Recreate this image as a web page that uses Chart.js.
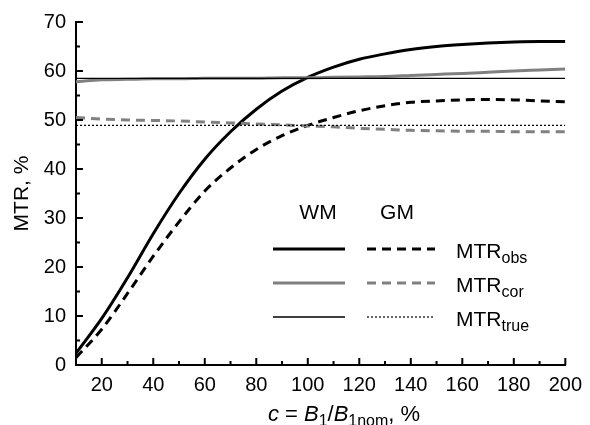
<!DOCTYPE html>
<html>
<head>
<meta charset="utf-8">
<script src="https://cdn.jsdelivr.net/npm/chart.js@4.4.0/dist/chart.umd.min.js"></script>
<style>
html,body{margin:0;padding:0;background:#fff;}
#wrap{width:590px;height:425px;position:relative;}
</style>
</head>
<body>
<div id="wrap"><canvas id="c" width="590" height="425"></canvas></div>
<script>
// ---- data ----
const xValues = [10,20,30,40,50,60,70,80,90,100,110,120,130,140,150,160,170,180,190,200];
const wmObs = [2.4,9.5,17.8,26.8,35.0,42.0,47.6,52.2,55.9,58.7,60.8,62.4,63.5,64.4,65.0,65.4,65.7,65.9,66.0,66.0];
const gmObs = [1.5,7.3,14.6,22.2,29.2,35.5,40.2,44.0,46.8,48.9,50.5,51.9,52.9,53.6,53.9,54.1,54.2,54.1,53.9,53.7];
const wmCor = [57.8,58.2,58.3,58.4,58.4,58.5,58.5,58.5,58.6,58.6,58.7,58.8,58.9,59.1,59.3,59.5,59.75,60.0,60.2,60.4];
const gmCor = [50.5,50.2,50.0,49.9,49.8,49.6,49.4,49.2,49.0,48.8,48.6,48.3,48.1,47.9,47.8,47.7,47.7,47.6,47.6,47.6];
const wmTrue = 58.5;
const gmTrue = 48.9;
const xTickLabels = [20,40,60,80,100,120,140,160,180,200];
const xMinorTicks = [30,50,70,90,110,130,150,170,190];
const yTickLabels = [0,10,20,30,40,50,60,70];
const yMinorTicks = [5,15,25,35,45,55,65];

const FONT = '"Liberation Sans", Arial, sans-serif';
const GREY = '#808080';

function pts(ys){ return xValues.map((x,i)=>({x:x,y:ys[i]})); }
function flat(v){ return [{x:10,y:v},{x:200,y:v}]; }

const tickPlugin = {
  id:'innerTicks',
  afterDraw(chart){
    const ctx = chart.ctx, xs = chart.scales.x, ys = chart.scales.y;
    const b = xs.top, l = ys.right;
    ctx.save();
    ctx.strokeStyle = '#000'; ctx.lineWidth = 2;
    ctx.beginPath();
    xTickLabels.forEach(v=>{const p=xs.getPixelForValue(v); ctx.moveTo(p,b); ctx.lineTo(p,b-7);});
    xMinorTicks.forEach(v=>{const p=xs.getPixelForValue(v); ctx.moveTo(p,b); ctx.lineTo(p,b-4);});
    yTickLabels.forEach(v=>{const p=ys.getPixelForValue(v); ctx.moveTo(l,p); ctx.lineTo(l+7,p);});
    yMinorTicks.forEach(v=>{const p=ys.getPixelForValue(v); ctx.moveTo(l,p); ctx.lineTo(l+4,p);});
    ctx.stroke();

    // y title
    ctx.fillStyle = '#000';
    ctx.font = '21px ' + FONT;
    ctx.textAlign = 'center'; ctx.textBaseline = 'middle';
    ctx.save();
    ctx.translate(22, (ys.top+ys.bottom)/2);
    ctx.rotate(-Math.PI/2);
    ctx.fillText('MTR, %', 0, 0);
    ctx.restore();

    // x title with italic / subscript parts
    const parts = [
      {t:'c', s:'italic 22px '+FONT, dy:0},
      {t:' = ', s:'22px '+FONT, dy:0},
      {t:'B', s:'italic 22px '+FONT, dy:0},
      {t:'1', s:'16px '+FONT, dy:5},
      {t:'/', s:'22px '+FONT, dy:0},
      {t:'B', s:'italic 22px '+FONT, dy:0},
      {t:'1nom', s:'16px '+FONT, dy:5},
      {t:', %', s:'22px '+FONT, dy:0}
    ];
    ctx.textAlign = 'left'; ctx.textBaseline = 'alphabetic';
    let w = 0;
    parts.forEach(p=>{ctx.font=p.s; w+=ctx.measureText(p.t).width;});
    let x0 = 344 - w/2;
    const base = 421;
    parts.forEach(p=>{ctx.font=p.s; ctx.fillText(p.t, x0, base+p.dy); x0+=ctx.measureText(p.t).width;});

    // legend
    ctx.font = '21px ' + FONT;
    ctx.textAlign = 'center'; ctx.textBaseline = 'middle';
    ctx.fillText('WM', 318, 213);
    ctx.fillText('GM', 397, 213);
    const rows = [
      {y:249, wm:{c:'#000',w:3,d:[]}, gm:{c:'#000',w:3,d:[9,6]}, sub:'obs'},
      {y:283, wm:{c:GREY,w:3,d:[]}, gm:{c:GREY,w:3,d:[9,6]}, sub:'cor'},
      {y:317, wm:{c:'#000',w:1.3,d:[]}, gm:{c:'#000',w:1.2,d:[2,2]}, sub:'true'}
    ];
    rows.forEach(r=>{
      ctx.lineCap='butt';
      ctx.strokeStyle=r.wm.c; ctx.lineWidth=r.wm.w; ctx.setLineDash(r.wm.d);
      ctx.beginPath(); ctx.moveTo(273,r.y); ctx.lineTo(345,r.y); ctx.stroke();
      ctx.strokeStyle=r.gm.c; ctx.lineWidth=r.gm.w; ctx.setLineDash(r.gm.d);
      ctx.beginPath(); ctx.moveTo(367,r.y); ctx.lineTo(435,r.y); ctx.stroke();
      ctx.setLineDash([]);
      ctx.fillStyle='#000';
      ctx.textAlign='left'; ctx.textBaseline='alphabetic';
      ctx.font='21px '+FONT;
      ctx.fillText('MTR', 456, r.y+9);
      const mw = ctx.measureText('MTR').width;
      ctx.font='16px '+FONT;
      ctx.fillText(r.sub, 456+mw, r.y+14);
    });
    ctx.restore();
  }
};

const common = {fill:false, pointRadius:0, cubicInterpolationMode:'monotone', borderCapStyle:'butt'};

new Chart(document.getElementById('c'), {
  type:'scatter',
  data:{datasets:[
    Object.assign({label:'WM true', data:flat(wmTrue), borderColor:'#000', borderWidth:1.3, showLine:true}, common),
    Object.assign({label:'GM true', data:flat(gmTrue), borderColor:'#000', borderWidth:1.2, borderDash:[2,2], showLine:true}, common),
    Object.assign({label:'WM cor', data:pts(wmCor), borderColor:GREY, borderWidth:3, showLine:true}, common),
    Object.assign({label:'GM cor', data:pts(gmCor), borderColor:GREY, borderWidth:3, borderDash:[9,6], showLine:true}, common),
    Object.assign({label:'WM obs', data:pts(wmObs), borderColor:'#000', borderWidth:3, showLine:true}, common),
    Object.assign({label:'GM obs', data:pts(gmObs), borderColor:'#000', borderWidth:3, borderDash:[9,6], showLine:true}, common)
  ]},
  options:{
    responsive:false, animation:false,
    layout:{padding:{top:20,right:21,left:0,bottom:0}},
    plugins:{legend:{display:false}, tooltip:{enabled:false}},
    scales:{
      x:{type:'linear', min:10, max:200,
        afterBuildTicks:(s)=>{s.ticks = xTickLabels.map(v=>({value:v}));},
        afterFit:(s)=>{s.height=60;},
        grid:{display:false, drawTicks:false},
        border:{display:true,color:'#000',width:2},
        ticks:{color:'#000', font:{family:FONT,size:20}, padding:8, maxRotation:0, autoSkip:false}
      },
      y:{type:'linear', min:0, max:70,
        afterBuildTicks:(s)=>{s.ticks = yTickLabels.map(v=>({value:v}));},
        afterFit:(s)=>{s.width=76;},
        grid:{display:false, drawTicks:false},
        border:{display:true,color:'#000',width:2},
        ticks:{color:'#000', font:{family:FONT,size:20}, padding:10, autoSkip:false}
      }
    }
  },
  plugins:[tickPlugin]
});
</script>
</body>
</html>
